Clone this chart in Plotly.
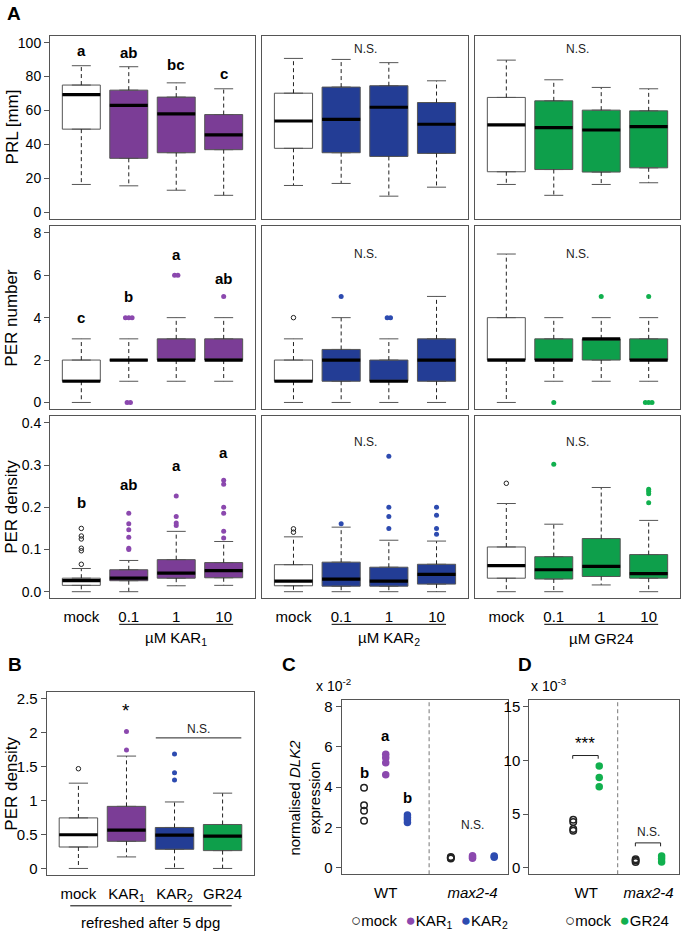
import plotly.graph_objects as go

W, H = 682, 934
FONT = "Liberation Sans, Arial, Helvetica, sans-serif"
BORDER = "#555555"
PURPLE, BLUE, GREEN = "#7B3D96", "#233D95", "#0E9F4B"
PURPLE_DOT, BLUE_DOT, GREEN_DOT = "#8B48AE", "#2D4BB0", "#11B04E"

# ---------------- data ----------------
conc_labels = ["mock", "0.1", "1", "10"]
# box stats per group: [lower whisker, Q1, median, Q3, upper whisker]
prl_kar1 = [[16.4, 49.0, 69.4, 75.0, 86.4], [15.6, 31.8, 63.0, 72.0, 85.8],
            [13.0, 35.1, 58.0, 67.9, 76.3], [10.0, 36.9, 45.6, 57.6, 72.8]]
prl_kar2 = [[15.8, 37.7, 53.8, 70.2, 90.7], [17.0, 35.1, 54.8, 73.8, 90.1],
            [9.5, 32.9, 61.9, 74.6, 88.2], [14.8, 34.7, 51.9, 64.7, 77.5]]
prl_gr24 = [[16.4, 23.9, 51.5, 67.7, 89.7], [10.0, 25.2, 49.9, 65.7, 78.1],
            [16.4, 23.7, 48.5, 60.2, 73.6], [17.4, 26.2, 50.5, 59.8, 72.8]]
prl_kar1_letters = ["a", "ab", "bc", "c"]
prl_kar1_letter_y = [95.2, 94.0, 87.0, 82.0]

pern_kar1 = [[0, 1, 1, 2, 3], [1, 2, 2, 2, 3], [1, 2, 2, 3, 4], [1, 2, 2, 3, 4]]
pern_kar2 = [[0, 1, 1, 2, 3], [0, 1, 2, 2.5, 4], [0, 1, 1, 2, 3], [0, 1, 2, 3, 5]]
pern_gr24 = [[0, 2, 2, 4, 7], [1, 2, 2, 3, 4], [1, 2, 3, 3, 4], [1, 2, 2, 3, 4]]
pern_kar1_out = [[], [4, 4, 4, 0, 0], [6, 6], [5]]
pern_kar2_out = [[4], [5], [4, 4], []]
pern_gr24_out = [[], [0], [5], [5, 0, 0, 0]]
pern_kar1_letters = ["c", "b", "a", "ab"]
pern_kar1_letter_y = [4.0, 5.0, 7.0, 5.85]

perd_kar1 = [[0.0, 0.015, 0.026, 0.032, 0.055], [0.0, 0.026, 0.032, 0.052, 0.074],
             [0.014, 0.032, 0.044, 0.076, 0.143], [0.015, 0.033, 0.050, 0.069, 0.119]]
perd_kar1_out = [[0.065, 0.097, 0.103, 0.125, 0.132, 0.150],
                 [0.100, 0.103, 0.129, 0.147, 0.161, 0.186],
                 [0.157, 0.163, 0.178, 0.227],
                 [0.127, 0.143, 0.186, 0.200, 0.255, 0.264]]
perd_kar2 = [[0.0, 0.014, 0.025, 0.064, 0.130], [0.0, 0.013, 0.030, 0.070, 0.153],
             [0.0, 0.013, 0.025, 0.058, 0.122], [0.0, 0.018, 0.041, 0.065, 0.120]]
perd_kar2_out = [[0.141, 0.149], [0.161], [0.150, 0.178, 0.200, 0.321], [0.136, 0.150, 0.181, 0.200]]
perd_gr24 = [[0.0, 0.032, 0.062, 0.106, 0.209], [0.0, 0.030, 0.052, 0.083, 0.160],
             [0.016, 0.036, 0.060, 0.126, 0.247], [0.0, 0.032, 0.043, 0.088, 0.169]]
perd_gr24_out = [[0.257], [0.302], [], [0.211, 0.232, 0.238, 0.243]]
perd_kar1_letters = ["b", "ab", "a", "a"]
perd_kar1_letter_y = [0.211, 0.254, 0.300, 0.329]

refresh_labels = ["mock", "KAR<sub>1</sub>", "KAR<sub>2</sub>", "GR24"]
perd_refresh = [[0.0, 0.316, 0.497, 0.745, 1.257], [0.17, 0.40, 0.565, 0.915, 1.656],
                [0.0, 0.282, 0.490, 0.604, 0.980], [0.0, 0.263, 0.477, 0.648, 1.110]]
perd_refresh_out = [[1.47], [1.745, 2.02], [1.305, 1.41, 1.685], []]

# panel C: normalised DLK2 expression (x 10^-2)
dlk2_c_wt_mock = [3.97, 3.10, 2.83, 2.34]
dlk2_c_wt_kar1 = [5.64, 5.46, 5.21, 4.62]
dlk2_c_wt_kar2 = [2.62, 2.50, 2.38, 2.25]
dlk2_c_max_mock = [0.46, 0.50, 0.54]
dlk2_c_max_kar1 = [0.48, 0.54, 0.60]
dlk2_c_max_kar2 = [0.53, 0.58]
dlk2_c_pos = [1, 2, 3, 5, 6, 7]
# panel D: normalised DLK2 expression (x 10^-3)
dlk2_d_wt_mock = [4.48, 4.27, 3.62, 3.46]
dlk2_d_wt_gr24 = [9.47, 8.41, 7.55]
dlk2_d_max_mock = [0.55, 0.68, 0.80]
dlk2_d_max_gr24 = [0.55, 0.85, 1.10]
dlk2_d_pos = [1, 2, 3.4, 4.4]

# ---------------- helpers ----------------
fig = go.Figure()
axes = {}
annotations = []
shapes = []


def px(x):
    return x / W


def py(y):
    return 1 - y / H


def names(n):
    s = "" if n == 1 else str(n)
    return "x" + s, "y" + s, "xaxis" + s, "yaxis" + s


def setup(n, xdom, ydom, xr, yr, yticks=None, ytext=None, xticks=None, xtext=None):
    xa, ya, xk, yk = names(n)
    axes[xk] = dict(domain=[px(xdom[0]), px(xdom[1])], range=xr, anchor=ya,
                    showline=True, mirror=True, linecolor=BORDER, linewidth=1,
                    showgrid=False, zeroline=False, fixedrange=True)
    if xticks is not None:
        axes[xk].update(tickmode="array", tickvals=xticks, ticktext=xtext, ticks="outside",
                        ticklen=5, tickcolor="rgba(0,0,0,0)",
                        tickfont=dict(size=15, color="black"))
    else:
        axes[xk].update(showticklabels=False, ticks="")
    axes[yk] = dict(domain=[py(ydom[1]), py(ydom[0])], range=yr, anchor=xa,
                    showline=True, mirror=True, linecolor=BORDER, linewidth=1,
                    showgrid=False, zeroline=False, fixedrange=True)
    if yticks is not None:
        axes[yk].update(tickmode="array", tickvals=yticks, ticktext=ytext, ticks="outside",
                        ticklen=5, tickcolor=BORDER, tickfont=dict(size=14, color="black"))
    else:
        axes[yk].update(showticklabels=False, ticks="")
    return xa, ya


def spread(pos, vals, step=0.07):
    counts = {}
    for v in vals:
        counts[v] = counts.get(v, 0) + 1
    seen = {}
    xs = []
    for v in vals:
        n = counts[v]
        k = seen.get(v, 0)
        seen[v] = k + 1
        xs.append(pos + (k - (n - 1) / 2) * step)
    return xs


def box_panel(xa, ya, stats, fills, dots, outliers=None):
    pos = list(range(1, len(stats) + 1))
    wx, wy, cx, cy, mx, my = [], [], [], [], [], []
    for i, s in enumerate(stats):
        p = pos[i]
        fig.add_trace(go.Box(x=[p], q1=[s[1]], median=[s[2]], q3=[s[3]],
                             lowerfence=[s[1]], upperfence=[s[3]], width=0.8,
                             fillcolor=fills[i], line=dict(color=BORDER, width=1),
                             boxpoints=False, xaxis=xa, yaxis=ya,
                             hoverinfo="skip", showlegend=False))
        wx += [p, p, None, p, p, None]
        wy += [s[3], s[4], None, s[1], s[0], None]
        cx += [p - 0.2, p + 0.2, None, p - 0.2, p + 0.2, None]
        cy += [s[4], s[4], None, s[0], s[0], None]
        mx += [p - 0.4, p + 0.4, None]
        my += [s[2], s[2], None]
    fig.add_trace(go.Scatter(x=wx, y=wy, mode="lines", xaxis=xa, yaxis=ya,
                             line=dict(color="#222222", width=1, dash="4px,3px"),
                             hoverinfo="skip", showlegend=False))
    fig.add_trace(go.Scatter(x=cx, y=cy, mode="lines", xaxis=xa, yaxis=ya,
                             line=dict(color=BORDER, width=1),
                             hoverinfo="skip", showlegend=False))
    fig.add_trace(go.Scatter(x=mx, y=my, mode="lines", xaxis=xa, yaxis=ya,
                             line=dict(color="black", width=3.2),
                             hoverinfo="skip", showlegend=False))
    if outliers:
        for i, vals in enumerate(outliers):
            if not vals:
                continue
            xs = spread(pos[i], vals)
            if i == 0:
                mk = dict(symbol="circle-open", size=4.5, color="#222222", line=dict(width=1))
            else:
                mk = dict(symbol="circle", size=5, color=dots[i])
            fig.add_trace(go.Scatter(x=xs, y=vals, mode="markers", marker=mk,
                                     xaxis=xa, yaxis=ya, hoverinfo="skip", showlegend=False))


def txt(text, x, y, xref="paper", yref="paper", size=15, bold=False, angle=0,
        xanchor="center", yanchor="middle", color="black"):
    if bold:
        text = "<b>" + text + "</b>"
    annotations.append(dict(text=text, x=x, y=y, xref=xref, yref=yref, showarrow=False,
                            font=dict(size=size, color=color, family=FONT),
                            textangle=angle, xanchor=xanchor, yanchor=yanchor))


# ---------------- panel A ----------------
cols = [(50, 255), (262, 468), (475, 680)]
rows = [(34, 218), (225, 409), (416, 599)]
xr = [0.34, 4.66]
rdefs = [
    ([-4, 104], [0, 20, 40, 60, 80, 100], ["0", "20", "40", "60", "80", "100"]),
    ([-0.32, 8.32], [0, 2, 4, 6, 8], ["0", "2", "4", "6", "8"]),
    ([-0.016, 0.416], [0, 0.1, 0.2, 0.3, 0.4], ["0.0", "0.1", "0.2", "0.3", "0.4"]),
]
panel_data = [
    [(prl_kar1, None), (prl_kar2, None), (prl_gr24, None)],
    [(pern_kar1, pern_kar1_out), (pern_kar2, pern_kar2_out), (pern_gr24, pern_gr24_out)],
    [(perd_kar1, perd_kar1_out), (perd_kar2, perd_kar2_out), (perd_gr24, perd_gr24_out)],
]
col_fill = [PURPLE, BLUE, GREEN]
col_dot = [PURPLE_DOT, BLUE_DOT, GREEN_DOT]
letters = [(prl_kar1_letters, prl_kar1_letter_y), (pern_kar1_letters, pern_kar1_letter_y),
           (perd_kar1_letters, perd_kar1_letter_y)]
ns_y = [96.0, 7.0, 0.354]
ax_ids = {}
n = 1
for r in range(3):
    for c in range(3):
        yr, yt, ytt = rdefs[r]
        xa, ya = setup(n, cols[c], rows[r], xr, yr,
                       yticks=yt if c == 0 else None, ytext=ytt if c == 0 else None,
                       xticks=[1, 2, 3, 4] if r == 2 else None,
                       xtext=conc_labels if r == 2 else None)
        ax_ids[(r, c)] = (xa, ya)
        st, out = panel_data[r][c]
        box_panel(xa, ya, st, ["white"] + [col_fill[c]] * 3,
                  ["#222222"] + [col_dot[c]] * 3, out)
        if c == 0:
            labs, ly = letters[r]
            for i, (lab, yy) in enumerate(zip(labs, ly)):
                txt(lab, i + 1, yy, xa, ya, size=15, bold=True)
        else:
            txt("N.S.", 2.5, ns_y[r], xa, ya, size=12, color="#222222")
        n += 1

# group labels under panel A
group_titles = ["µM KAR<sub>1</sub>", "µM KAR<sub>2</sub>", "µM GR24"]
for c in range(3):
    xa, ya = ax_ids[(2, c)]
    shapes.append(dict(type="line", xref=xa, yref="paper", x0=1.8, x1=4.2,
                       y0=py(625), y1=py(625), line=dict(color="black", width=1)))
    txt(group_titles[c], 3, py(639), xa, "paper", size=15)

for t, yc in zip(["PRL [mm]", "PER number", "PER density"], [126, 317, 507]):
    txt(t, px(12), py(yc), size=17, angle=-90)

# ---------------- panel B ----------------
xa, ya = setup(10, (46.7, 254.3), (693, 877), [0.34, 4.66], [-0.1, 2.6],
               yticks=[0, 0.5, 1, 1.5, 2, 2.5], ytext=["0", "0.5", "1", "1.5", "2", "2.5"],
               xticks=[1, 2, 3, 4], xtext=refresh_labels)
axes["yaxis10"]["tickfont"] = dict(size=15, color="black")
box_panel(xa, ya, perd_refresh, ["white", PURPLE, BLUE, GREEN],
          ["#222222", PURPLE_DOT, BLUE_DOT, GREEN_DOT], perd_refresh_out)
txt("*", 2, 2.33, xa, ya, size=19)
shapes.append(dict(type="line", xref=xa, yref=ya, x0=2.61, x1=4.39, y0=1.924, y1=1.924,
                   line=dict(color="#222222", width=1)))
txt("N.S.", 3.5, 2.06, xa, ya, size=12, color="#222222")
shapes.append(dict(type="line", xref=xa, yref="paper", x0=0.83, x1=4.19,
                   y0=py(907.7), y1=py(907.7), line=dict(color="black", width=1)))
txt("refreshed after 5 dpg", 2.51, py(924.5), xa, "paper", size=15)
txt("PER density", px(12), py(785), size=17, angle=-90)

# ---------------- panel C ----------------
xa, ya = setup(11, (341.7, 508.3), (701.2, 876), [-0.03, 7.65], [-0.32, 8.32],
               yticks=[0, 2, 4, 6, 8], ytext=["0", "2", "4", "6", "8"],
               xticks=[2, 6], xtext=["WT", "<i>max2-4</i>"])
axes["yaxis11"]["tickfont"] = dict(size=15, color="black")
c_groups = [dlk2_c_wt_mock, dlk2_c_wt_kar1, dlk2_c_wt_kar2,
            dlk2_c_max_mock, dlk2_c_max_kar1, dlk2_c_max_kar2]
c_cols = [None, PURPLE_DOT, BLUE_DOT, None, PURPLE_DOT, BLUE_DOT]
for vals, p, col in zip(c_groups, dlk2_c_pos, c_cols):
    if col is None:
        mk = dict(symbol="circle-open", size=6.5, color="#222222", line=dict(width=1.5))
    else:
        mk = dict(symbol="circle", size=7.5, color=col)
    fig.add_trace(go.Scatter(x=[p] * len(vals), y=vals, mode="markers", marker=mk,
                             xaxis=xa, yaxis=ya, hoverinfo="skip", showlegend=False))
shapes.append(dict(type="line", xref=xa, yref=ya + " domain", x0=4, x1=4, y0=0, y1=1,
                   line=dict(color="#777777", width=1, dash="4px,3px")))
for lab, xx, yy in [("b", 1, 4.75), ("a", 2, 6.56), ("b", 3, 3.48)]:
    txt(lab, xx, yy, xa, ya, size=15, bold=True)
txt("N.S.", 6, 2.11, xa, ya, size=12, color="#222222")
txt("x 10<sup>-2</sup>", px(314), py(686), size=14, xanchor="left")
txt("normalised <i>DLK2</i><br>expression", px(305), py(799), size=15, angle=-90)
NB = "\u00a0"
OPEN_C = "<span style='color:#222222;font-size:17px'>○</span>"


def dot_c(col):
    return "<span style='color:%s;font-size:17px'>●</span>" % col


txt(OPEN_C + "mock" + NB + NB + dot_c(PURPLE_DOT) + "KAR<sub>1</sub>" + NB + NB
    + dot_c(BLUE_DOT) + "KAR<sub>2</sub>", px(349), py(922.5), size=15, xanchor="left")

# ---------------- panel D ----------------
xa, ya = setup(12, (529.3, 679.3), (701.2, 876), [-0.69, 5.08], [-0.6, 15.6],
               yticks=[0, 5, 10, 15], ytext=["0", "5", "10", "15"],
               xticks=[1.5, 3.9], xtext=["WT", "<i>max2-4</i>"])
axes["yaxis12"]["tickfont"] = dict(size=15, color="black")
d_groups = [dlk2_d_wt_mock, dlk2_d_wt_gr24, dlk2_d_max_mock, dlk2_d_max_gr24]
d_cols = [None, GREEN_DOT, None, GREEN_DOT]
for vals, p, col in zip(d_groups, dlk2_d_pos, d_cols):
    if col is None:
        mk = dict(symbol="circle-open", size=6.5, color="#222222", line=dict(width=1.5))
    else:
        mk = dict(symbol="circle", size=7.5, color=col)
    fig.add_trace(go.Scatter(x=[p] * len(vals), y=vals, mode="markers", marker=mk,
                             xaxis=xa, yaxis=ya, hoverinfo="skip", showlegend=False))
shapes.append(dict(type="line", xref=xa, yref=ya + " domain", x0=2.71, x1=2.71, y0=0, y1=1,
                   line=dict(color="#777777", width=1, dash="4px,3px")))
for (x0, x1, yb, yt) in [(0.98, 1.96, 10.15, 10.45), (3.39, 4.36, 2.0, 2.32)]:
    shapes.append(dict(type="path", xref=xa, yref=ya,
                       path=f"M {x0} {yb} L {x0} {yt} L {x1} {yt} L {x1} {yb}",
                       line=dict(color="#222222", width=1)))
txt("***", 1.47, 11.6, xa, ya, size=17)
txt("N.S.", 3.88, 3.34, xa, ya, size=12, color="#222222")
txt("x 10<sup>-3</sup>", px(529), py(686), size=14, xanchor="left")
txt(OPEN_C + "mock" + NB + NB + dot_c(GREEN_DOT) + "GR24",
    px(563), py(922.5), size=15, xanchor="left")

# ---------------- panel letters ----------------
for lab, x, y in [("A", 5, 12), ("B", 6, 665), ("C", 280, 665), ("D", 516, 665)]:
    txt(lab, px(x), py(y), size=19, bold=True, xanchor="left")

fig.update_layout(width=W, height=H, margin=dict(l=0, r=0, t=0, b=0), autosize=False,
                  paper_bgcolor="white", plot_bgcolor="white", showlegend=False,
                  font=dict(family=FONT, color="black"), boxmode="overlay",
                  annotations=annotations, shapes=shapes, **axes)
fig.write_html("out.html", config={"displayModeBar": False, "staticPlot": True},
               post_script="document.body.style.margin='0';document.body.style.padding='0';"
                           "document.body.style.overflow='hidden';")
